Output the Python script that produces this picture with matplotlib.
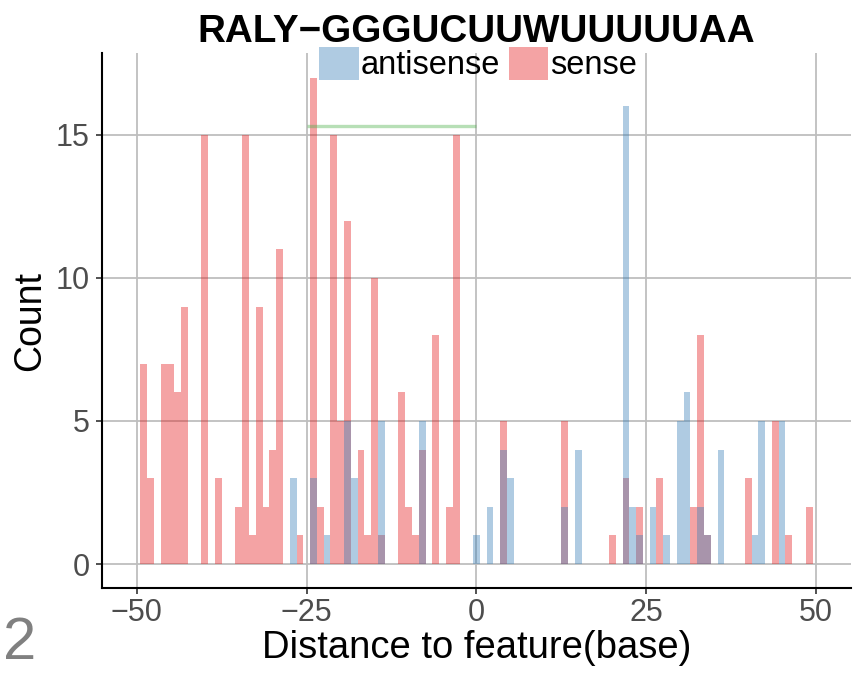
import matplotlib
matplotlib.use("Agg")
import matplotlib.pyplot as plt
from matplotlib.patches import Patch

plt.rcParams["font.family"] = ["Liberation Sans", "DejaVu Sans"]

# counts per distance (base)
sense_pos = [-49, -48, -46, -45, -44, -43, -40, -38, -35, -34, -33, -32, -31,
             -30, -29, -26, -24, -23, -21, -20, -19, -17, -16, -15, -14, -11,
             -10, -9, -8, -6, -4, -3, 4, 13, 20, 22, 24, 27, 32, 33, 34, 40,
             44, 46, 49]
sense_cnt = [7, 3, 7, 7, 6, 9, 15, 3, 2, 15, 1, 9, 2,
             4, 11, 1, 17, 2, 15, 5, 12, 4, 1, 10, 1, 6,
             2, 1, 4, 8, 2, 15, 5, 5, 1, 3, 2, 3, 2, 8, 1, 3,
             5, 1, 2]

anti_pos = [-27, -24, -22, -19, -18, -14, -8, 0, 2, 4, 5, 13, 15, 22, 23, 24,
            26, 28, 30, 31, 33, 34, 36, 41, 42, 45]
anti_cnt = [3, 3, 1, 5, 3, 5, 5, 1, 2, 4, 3, 2, 4, 16, 2, 1,
            2, 1, 5, 6, 2, 1, 4, 1, 5, 5]

motif_span = [-25, 0]
motif_y = 15.3

RED = "#E41A1C"
BLUE = "#377EB8"
GREEN = "#4DAF4A"

fig = plt.figure(figsize=(8.64, 6.73), dpi=100)
ax = fig.add_axes([0.1184, 0.1258, 0.8662, 0.795])

ax.bar(sense_pos, sense_cnt, width=1, color=RED, alpha=0.4, linewidth=0, zorder=2)
ax.bar(anti_pos, anti_cnt, width=1, color=BLUE, alpha=0.4, linewidth=0, zorder=3)
ax.hlines(motif_y, motif_span[0], motif_span[1], color=GREEN, alpha=0.4,
          linewidth=2.4, zorder=4)

ax.set_xlim(-55.1, 55.1)
ax.set_ylim(-0.85, 17.85)
ax.set_xticks([-50, -25, 0, 25, 50])
ax.set_yticks([0, 5, 10, 15])
ax.grid(True, color="#bebebe", linewidth=1.3, zorder=0)
ax.set_axisbelow(True)

for s in ["top", "right"]:
    ax.spines[s].set_visible(False)
for s in ["left", "bottom"]:
    ax.spines[s].set_linewidth(1.5)
    ax.spines[s].set_color("black")

ax.tick_params(axis="both", labelsize=22, labelcolor="#4d4d4d", color="#333333",
               length=4.3, width=1.2)
ax.tick_params(axis="x", pad=2.5)
ax.tick_params(axis="y", pad=5)

ax.set_xlabel("Distance to feature(base)", fontsize=27.5)
ax.xaxis.set_label_coords(0.5, -0.077)
ax.set_ylabel("Count", fontsize=27)
ax.yaxis.set_label_coords(-0.072, 0.5)

ax.set_title("RALY\u2212GGGUCUUWUUUUUAA", fontsize=27.8, fontweight="bold",
             y=1.0217, pad=0)

handles = [Patch(facecolor=BLUE, alpha=0.4, linewidth=0, label="antisense"),
           Patch(facecolor=RED, alpha=0.4, linewidth=0, label="sense")]
ax.legend(handles=handles, loc="center", bbox_to_anchor=(0.502, 0.98),
          bbox_transform=ax.transAxes, ncol=2, frameon=False, fontsize=23.5,
          handlelength=1.2, handleheight=1.17, handletextpad=0.05,
          columnspacing=0.28, borderpad=0, borderaxespad=0)

fig.text(3 / 864, 1 - 659 / 673, "2", fontsize=43, color="#808080",
         ha="left", va="baseline")

fig.savefig("out.png", dpi=100)
